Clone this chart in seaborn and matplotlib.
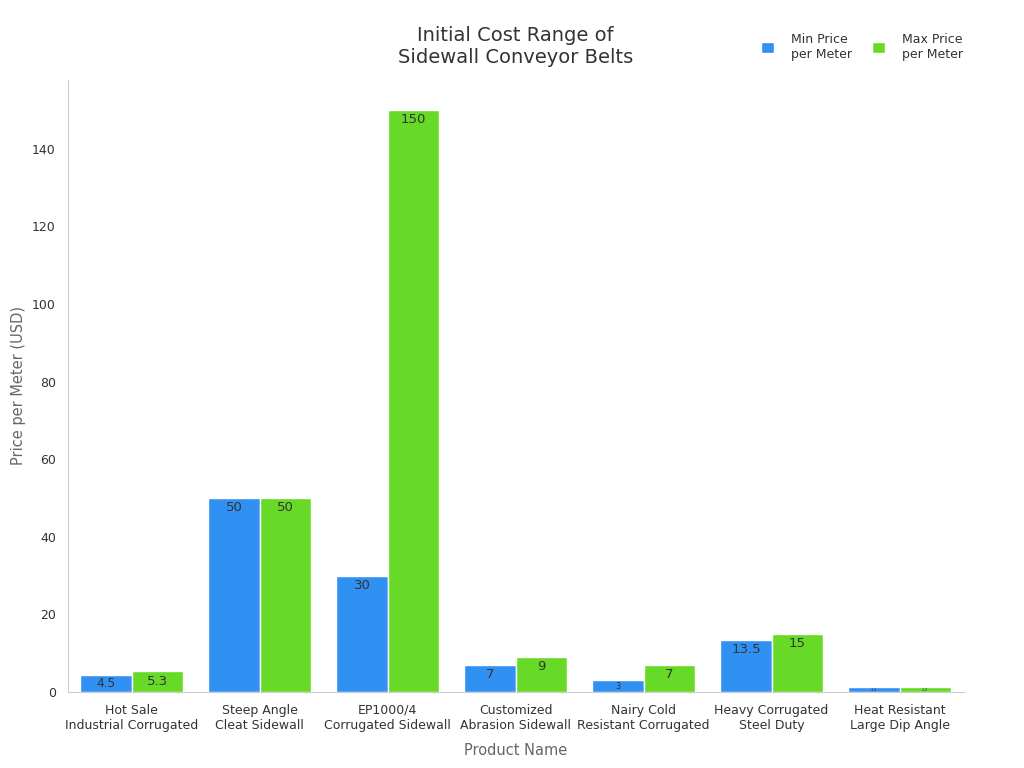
import matplotlib
matplotlib.use('Agg')
from matplotlib import pyplot as plt
import seaborn as sns
import pandas as pd

products = ["Hot Sale\nIndustrial Corrugated", "Steep Angle\nCleat Sidewall",
            "EP1000/4\nCorrugated Sidewall", "Customized\nAbrasion Sidewall",
            "Nairy Cold\nResistant Corrugated", "Heavy Corrugated\nSteel Duty",
            "Heat Resistant\nLarge Dip Angle"]
minPrice = [4.5, 50, 30, 7, 3, 13.5, 1.2]
maxPrice = [5.3, 50, 150, 9, 7, 15, 1.2]
seriesNames = ["Min Price\nper Meter", "Max Price\nper Meter"]
colors = ["#3091F2", "#66DA26"]

data = pd.DataFrame({
    "Product": products * 2,
    "Price": minPrice + maxPrice,
    "Series": [seriesNames[0]] * len(products) + [seriesNames[1]] * len(products),
})

sns.set_style("white")
plt.rcParams['font.family'] = ['DejaVu Sans']

fig, ax = plt.subplots(figsize=(10.24, 7.68), dpi=100)
fig.subplots_adjust(left=0.066, right=0.941, top=0.896, bottom=0.099)

sns.barplot(data=data, x="Product", y="Price", hue="Series", palette=colors,
            width=0.8, edgecolor="white", linewidth=1, saturation=1, ax=ax)

ax.set_ylim(0, 157.8)
ax.set_xlim(-0.5, 6.5)
ax.set_yticks(range(0, 141, 20))
ax.tick_params(axis="both", labelsize=9, colors="#333333", length=5, color="#999999")
ax.set_ylabel("Price per Meter (USD)", color="#666666", fontsize=10.5)
ax.set_xlabel("Product Name", color="#666666", fontsize=10.5, labelpad=8)
ax.set_title("Initial Cost Range of\nSidewall Conveyor Belts", fontsize=14,
             color="#333333", pad=12)

sns.despine(ax=ax)
for side in ["left", "bottom"]:
    ax.spines[side].set_color("#cccccc")

# value labels inside bars, shrink for short bars
pxPerUnit = (fig.get_figheight() * fig.dpi * 0.797) / 157.8
for container in ax.containers:
    for bar in container:
        h = bar.get_height()
        hPx = h * pxPerUnit
        size = min(9.5, max(3, hPx * 0.5))
        label = f"{h:g}"
        ax.annotate(label, (bar.get_x() + bar.get_width() / 2, h),
                    xytext=(0, -min(hPx * 0.36, 7)), textcoords="offset points",
                    ha="center", va="center", fontsize=size, color="#333333")

leg = ax.legend(title=None, loc="upper right", bbox_to_anchor=(1.012, 1.095),
                ncol=2, frameon=False, fontsize=9, handlelength=1.0,
                handleheight=1.0, handletextpad=1.4, columnspacing=1.6)
for t in leg.get_texts():
    t.set_color("#333333")

plt.savefig("out.png")
plt.close()
